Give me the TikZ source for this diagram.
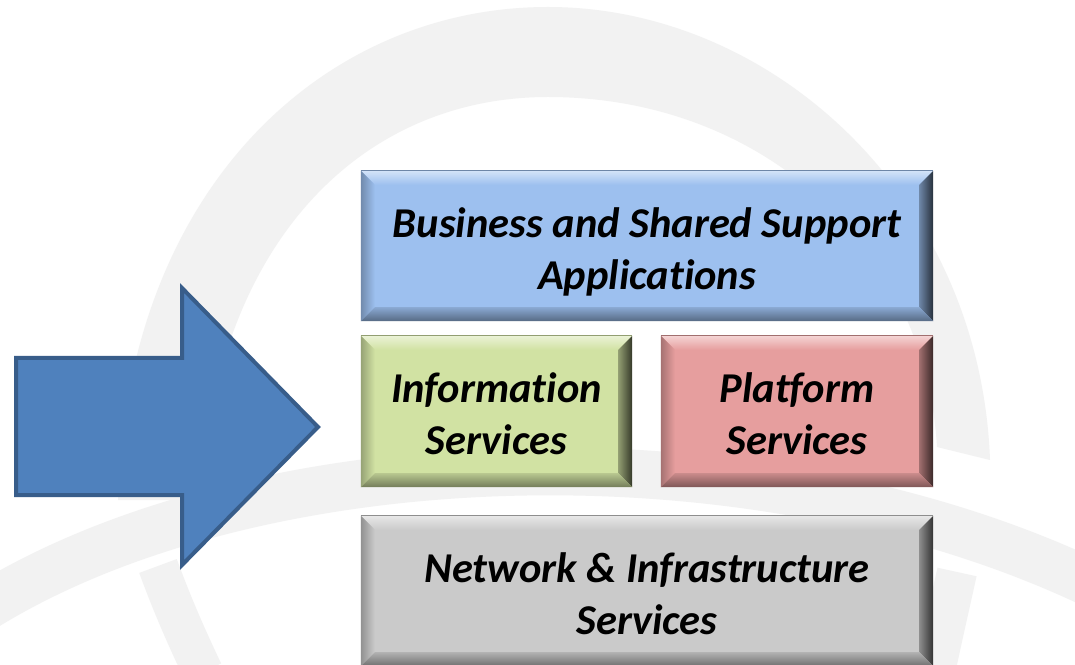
\documentclass[tikz,border=0pt]{standalone}
\usepackage{fontspec}
\setmainfont{Carlito}[Ligatures=CommonOff]
\usetikzlibrary{calc}
\definecolor{wm}{HTML}{F2F2F2}
\definecolor{bizc}{HTML}{9DC0EF}
\definecolor{infoc}{HTML}{D1E2A3}
\definecolor{platc}{HTML}{E69E9E}
\definecolor{netc}{HTML}{CACACA}
\definecolor{arrowfill}{HTML}{4F81BD}
\definecolor{arrowline}{HTML}{385D8A}
\tikzset{
  layerbox/.style={rectangle, inner sep=0pt},
  layertext/.style={inner sep=0pt, align=center,
    font=\fontsize{42.5}{52}\selectfont\bfseries\itshape, text=black},
  watermark/.style={draw=wm, line cap=butt},
}
\newcommand\bevel[2]{%
  \shade[top color=#2!45!white, bottom color=#2]
    (#1.north west) -- (#1.north east) -- ([shift={(-14,-14)}]#1.north east)
    -- ([shift={(14,-14)}]#1.north west) -- cycle;
  \shade[left color=#2!72!black, right color=#2]
    (#1.north west) -- ([shift={(14,-14)}]#1.north west)
    -- ([shift={(14,14)}]#1.south west) -- (#1.south west) -- cycle;
  \shade[left color=#2!70!black, right color=#2!25!black]
    (#1.north east) -- (#1.south east) -- ([shift={(-14,14)}]#1.south east)
    -- ([shift={(-14,-14)}]#1.north east) -- cycle;
  \shade[top color=#2!88!black, bottom color=#2!55!black]
    (#1.south west) -- ([shift={(14,14)}]#1.south west)
    -- ([shift={(-14,14)}]#1.south east) -- (#1.south east) -- cycle;
  \draw[#2!70!black, line width=1.2] (#1.north west) -- (#1.north east);
}
\begin{document}
\begin{tikzpicture}[x=1pt, y=1pt]
\useasboundingbox (0,0) rectangle (1075,664);
\clip (0,0) rectangle (1075,664);
\fill[white] (0,0) rectangle (1075,664);

% watermark arch
\fill[wm] (118,164) .. controls (125,470) and (320,657) .. (548,657)
  .. controls (770,657) and (980,470) .. (990,204)
  -- (937,217) .. controls (925,420) and (760,567) .. (548,567)
  .. controls (360,567) and (215,420) .. (200,164) -- cycle;
% watermark lower bands
\draw[watermark, line width=48] (-20,54) .. controls (250,224) and (750,244) .. (1095,79);
\draw[watermark, line width=40] (158,98) .. controls (172,60) and (185,30) .. (203,-8);
\draw[watermark, line width=40] (957,92) .. controls (950,60) and (943,30) .. (935,-8);

% big arrow
\filldraw[fill=arrowfill, draw=arrowline, line width=4, line join=miter]
  (16,306) -- (182,306) -- (182,376) -- (318,237) -- (182,99) -- (182,169)
  -- (16,169) -- cycle;

% layer boxes
\node[layerbox, fill=bizc, minimum width=572, minimum height=150] (biz) at (647,418) {};
\bevel{biz}{bizc}
\node[layertext] (biztext) at ([yshift=-6]biz.center) {Business and Shared Support\\Applications};

\node[layerbox, fill=infoc, minimum width=271, minimum height=151] (info) at (496.5,252.5) {};
\bevel{info}{infoc}
\node[layertext] (infotext) at ([yshift=-2]info.center) {Information\\Services};

\node[layerbox, fill=platc, minimum width=272, minimum height=151] (plat) at (797,252.5) {};
\bevel{plat}{platc}
\node[layertext] (plattext) at ([yshift=-2]plat.center) {Platform\\Services};

\node[layerbox, fill=netc, minimum width=572, minimum height=150] (net) at (647,73) {};
\bevel{net}{netc}
\node[layertext] (nettext) at ([yshift=-3]net.center) {Network \& Infrastructure\\Services};
\end{tikzpicture}
\end{document}
